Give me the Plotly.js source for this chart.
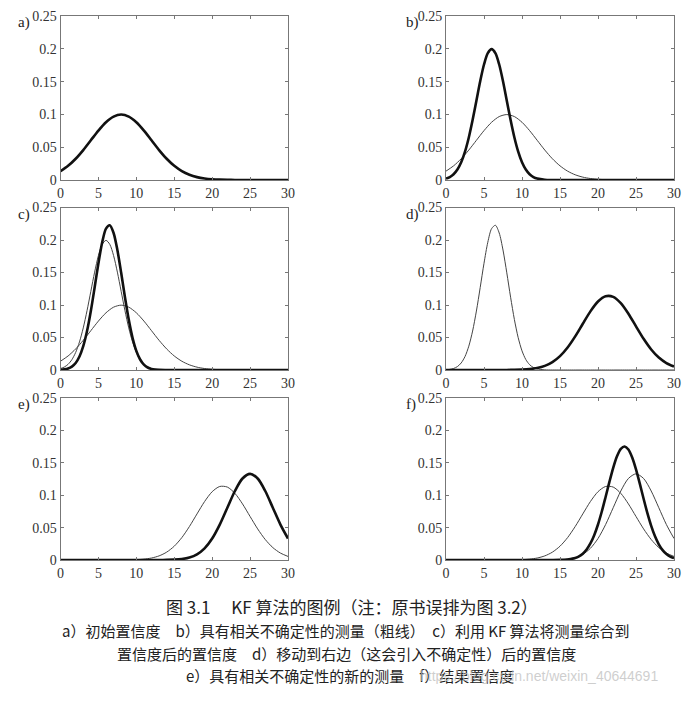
<!DOCTYPE html>
<html>
<head>
<meta charset="utf-8">
<script src="https://cdn.plot.ly/plotly-3.0.1.min.js"></script>
<style>html,body{margin:0;padding:0;background:#fff;}#chart{width:699px;height:701px;}</style>
</head>
<body>
<div id="chart"></div>
<script>
// x positions (state) for the broad curves
var xs = [0,1,2,3,4,5,6,7,8,9,10,11,12,13,14,15,16,17,18,19,20,21,22,23,24,25,26,27,28,29,30];
// a) initial belief
var beliefA = [0.0135,0.02158,0.03238,0.04566,0.06049,0.07528,0.08802,0.09667,0.09974,0.09667,0.08802,0.07528,0.06049,0.04566,0.03238,0.02158,0.0135,0.00794,0.00438,0.00227,0.00111,0.00051,0.00022,0.00009,0.00003,0.00001,0,0,0,0,0];
// b) measurement (finer x near the peak)
var xsB = [0,0.5,1,1.5,2,2.5,3,3.5,4,4.5,5,5.5,6,6.5,7,7.5,8,8.5,9,9.5,10,10.5,11,11.5,12,13,14,15,16,17,18,19,20,21,22,23,24,25,26,27,28,29,30];
var measB = [0.00222,0.00455,0.00876,0.01588,0.027,0.04315,0.06476,0.09132,0.12098,0.15056,0.17603,0.19333,0.19947,0.19333,0.17603,0.15056,0.12098,0.09132,0.06476,0.04315,0.027,0.01588,0.00876,0.00455,0.00222,0.00044,0.00007,0.00001,0,0,0,0,0,0,0,0,0,0,0,0,0,0,0];
// c) fused belief (finer x near the peak)
var xsC = [0,0.5,1,1.5,2,2.5,3,3.5,4,4.5,5,5.5,6,6.5,7,7.5,8,8.5,9,9.5,10,10.5,11,11.5,12,13,14,15,16,17,18,19,20,21,22,23,24,25,26,27,28,29,30];
var fusedC = [0.00037,0.00097,0.00234,0.00524,0.01083,0.02071,0.03664,0.05992,0.09067,0.12687,0.16418,0.1965,0.2175,0.22266,0.21081,0.18459,0.14949,0.11196,0.07755,0.04968,0.02943,0.01613,0.00818,0.00383,0.00166,0.00025,0.00003,0,0,0,0,0,0,0,0,0,0,0,0,0,0,0,0];
// d) moved belief
var movedD = [0,0,0,0,0,0,0.00001,0.00002,0.00007,0.00021,0.00056,0.00136,0.00306,0.00634,0.01211,0.02131,0.03457,0.05166,0.07112,0.0902,0.1054,0.11347,0.11255,0.10284,0.08658,0.06716,0.04799,0.03159,0.01916,0.01071,0.00551];
// e) new measurement
var measE = [0,0,0,0,0,0,0,0,0,0,0,0,0.00001,0.00004,0.00016,0.00051,0.00148,0.0038,0.00874,0.018,0.03316,0.05467,0.08066,0.10648,0.12579,0.13298,0.12579,0.10648,0.08066,0.05467,0.03316];
// f) resulting belief (finer x near the peak)
var xsF = [0,1,2,3,4,5,6,7,8,9,10,11,12,13,14,15,16,17,17.5,18,18.5,19,19.5,20,20.5,21,21.5,22,22.5,23,23.5,24,24.5,25,25.5,26,26.5,27,27.5,28,28.5,29,29.5,30];
var resultF = [0,0,0,0,0,0,0,0,0,0,0,0,0,0,0.00003,0.00017,0.0008,0.00308,0.00562,0.00976,0.01615,0.02548,0.03829,0.05482,0.07481,0.09727,0.12052,0.14228,0.16006,0.17158,0.17526,0.17059,0.15822,0.13983,0.11776,0.09449,0.07225,0.05264,0.03655,0.02418,0.01524,0.00916,0.00524,0.00286];

var panelLabels = ['a)','b)','c)','d)','e)','f)'];
var xTicks = [0,5,10,15,20,25,30];
var yTicks = [0,0.05,0.1,0.15,0.2,0.25];
var captionTitle = '图 3.1　 KF 算法的图例（注：原书误排为图 3.2）';
var captionLines = [
  'a）初始置信度　b）具有相关不确定性的测量（粗线）　c）利用 KF 算法将测量综合到',
  '置信度后的置信度　d）移动到右边（这会引入不确定性）后的置信度',
  'e）具有相关不确定性的新的测量　f）结果置信度'
];
var watermark = 'https://blog.csdn.net/weixin_40644691';

// panel contents: [x, y, thick?]
var panels = [
  [[xs,beliefA,true]],
  [[xs,beliefA,false],[xsB,measB,true]],
  [[xs,beliefA,false],[xsB,measB,false],[xsC,fusedC,true]],
  [[xsC,fusedC,false],[xs,movedD,true]],
  [[xs,movedD,false],[xs,measE,true]],
  [[xs,movedD,false],[xs,measE,false],[xsF,resultF,true]]
];

var W = 699, H = 701;
var colX = [[60.5,288],[446,674]];
var rowY = [[16,180],[207.5,370],[398,560]];

var traces = [];
var layout = {
  width: W, height: H,
  margin: {l:0,r:0,t:0,b:0},
  paper_bgcolor: '#fff', plot_bgcolor: '#fff',
  showlegend: false,
  font: {family: 'Liberation Serif, serif', color: '#222'},
  annotations: []
};

panels.forEach(function(p, i){
  var n = i + 1;
  var xa = 'x' + (n === 1 ? '' : n), ya = 'y' + (n === 1 ? '' : n);
  p.forEach(function(s){
    traces.push({
      x: s[0], y: s[1], xaxis: xa, yaxis: ya, type: 'scatter', mode: 'lines',
      line: {shape: 'spline', smoothing: 0.8, color: s[2] ? '#111' : '#444', width: s[2] ? 2.6 : 1},
      hoverinfo: 'skip'
    });
  });
  var c = colX[i % 2], r = rowY[Math.floor(i / 2)];
  var axCommon = {
    showgrid: false, zeroline: false, showline: true, linecolor: '#777', linewidth: 1,
    mirror: 'ticks', ticks: 'inside', ticklen: 3, tickcolor: '#777',
    tickfont: {family: 'Liberation Serif, serif', size: 14, color: '#333'},
    fixedrange: true
  };
  layout['xaxis' + (n === 1 ? '' : n)] = Object.assign({}, axCommon, {
    domain: [c[0] / W, c[1] / W], range: [0, 30], tickvals: xTicks, anchor: ya
  });
  layout['yaxis' + (n === 1 ? '' : n)] = Object.assign({}, axCommon, {
    domain: [1 - r[1] / H, 1 - r[0] / H], range: [0, 0.25], tickvals: yTicks, anchor: xa
  });
  layout.annotations.push({
    text: panelLabels[i], xref: 'paper', yref: 'paper',
    x: (i % 2 === 0 ? 16 : 404) / W, y: 1 - (r[0] + 7) / H,
    xanchor: 'left', yanchor: 'middle', showarrow: false,
    font: {family: 'Liberation Serif, serif', size: 15, color: '#222'}
  });
});

function fixGlyph(t) {
  return t.replace(/测/g, '<span style="color:#222;font-family:\'Noto Sans CJK TC\'">测</span>');
}

var capFont = '"Noto Sans CJK SC", "Noto Sans CJK JP", sans-serif';
layout.annotations.push({
  text: captionTitle, xref: 'paper', yref: 'paper', x: 352 / W, y: 1 - 606 / H,
  xanchor: 'center', yanchor: 'middle', showarrow: false,
  font: {family: capFont, size: 17, color: '#222'}
});
var capY = [630, 653, 675], capX = [345.5, 346, 349.5];
captionLines.forEach(function(t, k){
  layout.annotations.push({
    text: fixGlyph(t), xref: 'paper', yref: 'paper', x: capX[k] / W, y: 1 - capY[k] / H,
    xanchor: 'center', yanchor: 'middle', showarrow: false,
    font: {family: capFont, size: 15, color: '#222'}
  });
});
layout.annotations.push({
  text: watermark, xref: 'paper', yref: 'paper', x: 418 / W, y: 1 - 676 / H,
  xanchor: 'left', yanchor: 'middle', showarrow: false,
  font: {family: 'Liberation Sans, Arial, sans-serif', size: 14, color: 'rgba(190,190,190,0.75)'}
});

Plotly.newPlot('chart', traces, layout, {staticPlot: true, displayModeBar: false});
</script>
</body>
</html>
